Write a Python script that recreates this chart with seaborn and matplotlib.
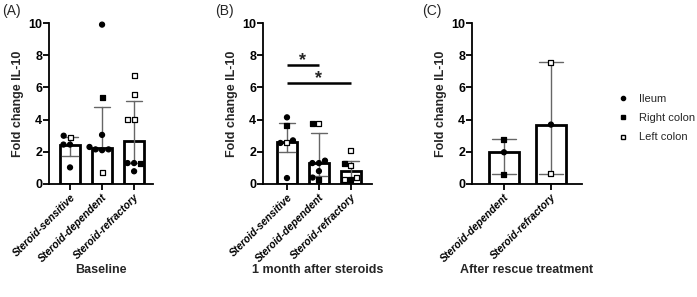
import numpy as np
import pandas as pd
import matplotlib
matplotlib.use("Agg")
import matplotlib.pyplot as plt
from matplotlib.markers import MarkerStyle
from matplotlib.lines import Line2D
import seaborn as sns

sns.set_theme(style="ticks")
plt.rcParams['font.family'] = ['Liberation Sans', 'DejaVu Sans']

# ---------------- data ----------------
groups_A = ["Steroid-sensitive", "Steroid-dependent", "Steroid-refractory"]
groups_B = ["Steroid-sensitive", "Steroid-dependent", "Steroid-refractory"]
groups_C = ["Steroid-dependent", "Steroid-refractory"]

# Panel A: Baseline
a_sens_val = [3.0, 2.9, 2.45, 2.45, 1.03]
a_sens_tis = ["Ileum", "Left colon", "Ileum", "Ileum", "Ileum"]
a_dep_val = [9.9, 5.35, 3.05, 2.3, 2.15, 2.15, 2.1, 0.7]
a_dep_tis = ["Ileum", "Right colon", "Ileum", "Ileum", "Ileum", "Ileum", "Ileum", "Left colon"]
a_ref_val = [6.75, 5.55, 4.0, 4.0, 1.3, 1.3, 1.3, 0.79]
a_ref_tis = ["Left colon", "Left colon", "Left colon", "Left colon", "Ileum", "Right colon", "Ileum", "Ileum"]

# Panel B: 1 month after steroids
b_sens_val = [4.14, 3.64, 2.71, 2.55, 2.55, 0.37]
b_sens_tis = ["Ileum", "Right colon", "Ileum", "Left colon", "Ileum", "Ileum"]
b_dep_val = [3.73, 3.78, 1.45, 1.3, 1.3, 0.8, 0.4, 0.3]
b_dep_tis = ["Left colon", "Right colon", "Ileum", "Ileum", "Ileum", "Ileum", "Ileum", "Right colon"]
b_ref_val = [2.07, 1.25, 1.16, 0.4, 0.3, 0.25]
b_ref_tis = ["Left colon", "Right colon", "Left colon", "Left colon", "Left colon", "Right colon"]

# Panel C: After rescue treatment
c_dep_val = [2.78, 1.97, 0.62]
c_dep_tis = ["Right colon", "Ileum", "Right colon"]
c_ref_val = [7.55, 3.69, 0.63]
c_ref_tis = ["Left colon", "Ileum", "Left colon"]

panel_titles = ["Baseline", "1 month after steroids", "After rescue treatment"]
panel_letters = ["(A)", "(B)", "(C)"]
tissues = ["Ileum", "Right colon", "Left colon"]
sig_B = [(0, 1, 7.4), (0, 2, 6.27)]  # (from group, to group, height)


def make_df(groups, vals, tiss):
    rows = []
    for g, v, t in zip(groups, vals, tiss):
        for vi, ti in zip(v, t):
            rows.append((g, vi, ti))
    return pd.DataFrame(rows, columns=["group", "value", "tissue"])


dfA = make_df(groups_A, [a_sens_val, a_dep_val, a_ref_val], [a_sens_tis, a_dep_tis, a_ref_tis])
dfB = make_df(groups_B, [b_sens_val, b_dep_val, b_ref_val], [b_sens_tis, b_dep_tis, b_ref_tis])
dfC = make_df(groups_C, [c_dep_val, c_ref_val], [c_dep_tis, c_ref_tis])

# ---------------- figure ----------------
W, H = 697, 297
fig = plt.figure(figsize=(W / 100, H / 100), dpi=100)

# axes pixel boxes: left, right, top, bottom
boxes = [(49, 153, 23, 184), (263, 372, 23, 184), (472, 582, 23, 184)]
xlims = [(-0.656, 2.59), (-0.75, 2.66), (-0.68, 1.66)]


def iqr_weibull(x):
    return (np.percentile(x, 25, method="weibull"), np.percentile(x, 75, method="weibull"))


palette = {"Ileum": "black", "Right colon": "black", "Left colon": "white"}


def mk_path(m):
    ms = MarkerStyle(m)
    return ms.get_path().transformed(ms.get_transform())


circle = mk_path("o")
square = mk_path("s")

for i, (df, order) in enumerate([(dfA, groups_A), (dfB, groups_B), (dfC, groups_C)]):
    l, r, t, b = boxes[i]
    ax = fig.add_axes([l / W, (H - b) / H, (r - l) / W, (b - t) / H])
    sns.barplot(data=df, x="group", y="value", order=order, estimator="median",
                errorbar=iqr_weibull, color="white", edgecolor="black", linewidth=2.0,
                width=0.63, capsize=0.5,
                err_kws={"color": "#666666", "linewidth": 1.0}, ax=ax)
    n_before = len(ax.collections)
    sns.swarmplot(data=df, x="group", y="value", order=order, hue="tissue",
                  hue_order=tissues, palette=palette, dodge=False, size=3.6,
                  edgecolor="black", linewidth=0.9, legend=False, ax=ax)
    # assign marker shapes per point (circle for ileum, square for colon)
    for ci, coll in enumerate(ax.collections[n_before:]):
        g = order[ci]
        sub = df[df["group"] == g]
        paths = [circle if tt == "Ileum" else square for tt in sub["tissue"]]
        coll.set_paths(paths)
        coll.set_zorder(3)
        coll.set_clip_on(False)

    ax.set_ylim(0, 10)
    ax.set_xlim(*xlims[i])
    ax.set_yticks([0, 2, 4, 6, 8, 10])
    ax.set_ylabel("Fold change IL-10", fontsize=9, fontweight="bold", labelpad=3)
    ax.set_xlabel(panel_titles[i], fontsize=9, fontweight="bold")
    ax.xaxis.set_label_coords(0.5, (184 - 264) / 161)
    ax.tick_params(axis="both", direction="out", width=1.3, length=4, colors="black")
    ax.tick_params(axis="y", labelsize=9, pad=1)
    ax.tick_params(axis="x", labelsize=7.5, pad=2)
    for lab in ax.get_yticklabels():
        lab.set_fontweight("bold")
    for lab in ax.get_xticklabels():
        lab.set_rotation(45)
        lab.set_ha("right")
        lab.set_rotation_mode("anchor")
        lab.set_fontweight("bold")
        lab.set_fontstyle("italic")
    sns.despine(ax=ax)
    for s in ["left", "bottom"]:
        ax.spines[s].set_linewidth(1.3)
        ax.spines[s].set_color("black")
    ax.set_facecolor("none")

    if i == 1:
        for (g0, g1, h) in sig_B:
            ax.plot([g0, g1], [h, h], color="black", linewidth=1.8, solid_capstyle="butt")
            ax.text((g0 + g1) / 2, h - 0.25, "*", ha="center", va="bottom",
                    fontsize=13, fontweight="bold")

    fig.text([2, 215, 422][i] / W, 1 - 4 / H, panel_letters[i], fontsize=10,
             ha="left", va="top")

handles = [
    Line2D([], [], marker="o", linestyle="none", markerfacecolor="black",
           markeredgecolor="black", markersize=3.0),
    Line2D([], [], marker="s", linestyle="none", markerfacecolor="black",
           markeredgecolor="black", markersize=2.8),
    Line2D([], [], marker="s", linestyle="none", markerfacecolor="white",
           markeredgecolor="black", markersize=3.2, markeredgewidth=1.0),
]
fig.legend(handles, tissues, loc="center left", bbox_to_anchor=(613 / W, 1 - 118 / H),
           frameon=False, fontsize=8, handlelength=1.0, handletextpad=0.9,
           labelspacing=0.85, borderaxespad=0)

fig.savefig("out.png", dpi=100, facecolor="white")
